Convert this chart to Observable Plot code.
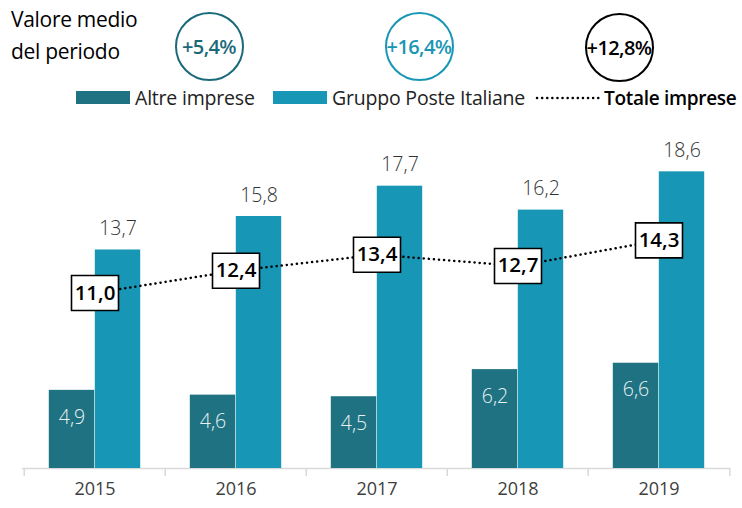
<!DOCTYPE html>
<html>
<head>
<meta charset="utf-8">
<script src="https://cdn.jsdelivr.net/npm/d3@7"></script>
<script src="https://cdn.jsdelivr.net/npm/@observablehq/plot@0.6"></script>
<style>
  body { margin: 0; background: #fff; font-family: "Open Sans", sans-serif; }
  #wrap { position: relative; width: 742px; }
  #hdr { position: relative; width: 742px; height: 120px; }
  .abs { position: absolute; white-space: nowrap; }
  .circ { position: absolute; width: 69px; height: 69px; box-sizing: border-box; border: 2px solid; border-radius: 50%;
          display: flex; align-items: center; justify-content: center; font-size: 20px; font-weight: 600; letter-spacing: -0.6px; }
  .leg { position: absolute; top: 84px; line-height: 28px; font-size: 19.5px; color: #222; white-space: nowrap; letter-spacing: -0.2px; }
  .sw { position: absolute; top: 91px; width: 54px; height: 13px; }
</style>
</head>
<body>
<div id="wrap">
  <div id="hdr"></div>
  <div id="chart"></div>
</div>
<script>
// ---- data ----
const years = ["2015", "2016", "2017", "2018", "2019"];
const altre = [4.9, 4.6, 4.5, 6.2, 6.6];
const gruppo = [13.7, 15.8, 17.7, 16.2, 18.6];
const totale = [11.0, 12.4, 13.4, 12.7, 14.3];
const growthLabels = ["+5,4%", "+16,4%", "+12,8%"];
const seriesNames = ["Altre imprese", "Gruppo Poste Italiane", "Totale imprese"];
const headerTitle = ["Valore medio", "del periodo"];

const colors = ["#1f7282", "#1896b5", "#000000"];
const fmt = v => v.toFixed(1).replace(".", ",");

const rows = years.map((y, i) => ({year: y, altre: altre[i], gruppo: gruppo[i], totale: totale[i]}));

// ---- header (title, growth circles, legend) ----
const hdr = document.getElementById("hdr");
const title = document.createElement("div");
title.className = "abs";
Object.assign(title.style, {left: "11px", top: "3px", fontSize: "21px", lineHeight: "32px", color: "#000", letterSpacing: "-0.3px"});
title.innerHTML = headerTitle.join("<br>");
hdr.appendChild(title);

const circleCenters = [[209, 46], [419, 46], [619, 47]];
const circleColors = ["#1b6a7a", "#1a96b5", "#000"];
growthLabels.forEach((t, i) => {
  const c = document.createElement("div");
  c.className = "circ";
  c.style.left = (circleCenters[i][0] - 34.5) + "px";
  c.style.top = (circleCenters[i][1] - 34.5) + "px";
  c.style.borderColor = circleColors[i];
  c.style.color = circleColors[i];
  c.textContent = t;
  hdr.appendChild(c);
});

function addSwatch(left, color) {
  const s = document.createElement("div");
  s.className = "sw";
  s.style.left = left + "px";
  s.style.background = color;
  hdr.appendChild(s);
}
function addLegText(left, text, bold) {
  const s = document.createElement("div");
  s.className = "leg";
  s.style.left = left + "px";
  if (bold) { s.style.fontWeight = "600"; s.style.color = "#000"; s.style.fontSize = "19px"; s.style.letterSpacing = "-0.3px"; }
  s.textContent = text;
  hdr.appendChild(s);
}
addSwatch(76, colors[0]);
addLegText(135, seriesNames[0]);
addSwatch(273, colors[1]);
addLegText(332, seriesNames[1]);
const ns = "http://www.w3.org/2000/svg";
const lsvg = document.createElementNS(ns, "svg");
lsvg.setAttribute("width", 70); lsvg.setAttribute("height", 10);
Object.assign(lsvg.style, {position: "absolute", left: "535px", top: "93px"});
const ll = document.createElementNS(ns, "line");
ll.setAttribute("x1", 2); ll.setAttribute("x2", 67); ll.setAttribute("y1", 5); ll.setAttribute("y2", 5);
ll.setAttribute("stroke", "#000"); ll.setAttribute("stroke-width", 2.5);
ll.setAttribute("stroke-dasharray", "0.1,5"); ll.setAttribute("stroke-linecap", "round");
lsvg.appendChild(ll);
hdr.appendChild(lsvg);
addLegText(604, seriesNames[2], true);

// ---- chart ----
const W = 742, H = 388, mL = 22, mR = 12;
const bw = (W - mL - mR) / years.length;
const barW = 46;
const outer = (bw - 2 * barW) / 2;
const boxW = 47, boxH = 35;
const boxSymbol = {
  draw(ctx) {
    ctx.moveTo(-boxW / 2, -boxH / 2);
    ctx.lineTo(boxW / 2, -boxH / 2);
    ctx.lineTo(boxW / 2, boxH / 2);
    ctx.lineTo(-boxW / 2, boxH / 2);
    ctx.closePath();
  }
};

const chart = Plot.plot({
  width: W,
  height: H,
  marginLeft: mL,
  marginRight: mR,
  marginTop: 29,
  marginBottom: 40,
  style: {fontFamily: "'Open Sans', sans-serif", fontSize: "18px", color: "#404040", background: "transparent"},
  x: {type: "band", domain: years, padding: 0, tickSize: 0, tickPadding: 14, label: null},
  y: {domain: [0, 20], axis: null},
  marks: [
    Plot.ruleY([0], {stroke: "#d9d9d9", strokeWidth: 1.5}),
    Plot.ruleX(rows, {x: "year", dx: -bw / 2, y1: 0, y2: -0.5, stroke: "#d9d9d9", strokeWidth: 1.5}),
    Plot.ruleX(rows.slice(-1), {x: "year", dx: bw / 2, y1: 0, y2: -0.5, stroke: "#d9d9d9", strokeWidth: 1.5}),
    Plot.barY(rows, {x: "year", y: "altre", fill: colors[0], insetLeft: outer, insetRight: bw - outer - barW}),
    Plot.barY(rows, {x: "year", y: "gruppo", fill: colors[1], insetLeft: outer + barW, insetRight: outer}),
    Plot.text(rows, {x: "year", y: "gruppo", text: d => fmt(d.gruppo), dx: barW / 2, dy: -21, fill: "#333", fontSize: 19.5, fontWeight: 300}),
    Plot.text(rows, {x: "year", y: "altre", text: d => fmt(d.altre), dx: -barW / 2, dy: 27, fill: "#e8f1f3", fontSize: 19.5, fontWeight: 300}),
    Plot.line(rows, {x: "year", y: "totale", stroke: "#000", strokeWidth: 2.5, strokeDasharray: "0.1,5", strokeLinecap: "round"}),
    Plot.dot(rows, {x: "year", y: "totale", symbol: boxSymbol, fill: "#fff", stroke: "#000", strokeWidth: 1.6}),
    Plot.text(rows, {x: "year", y: "totale", text: d => fmt(d.totale), fill: "#000", fontSize: 20.5, fontWeight: 600, letterSpacing: "-0.5px"})
  ]
});
document.getElementById("chart").appendChild(chart);
</script>
</body>
</html>
